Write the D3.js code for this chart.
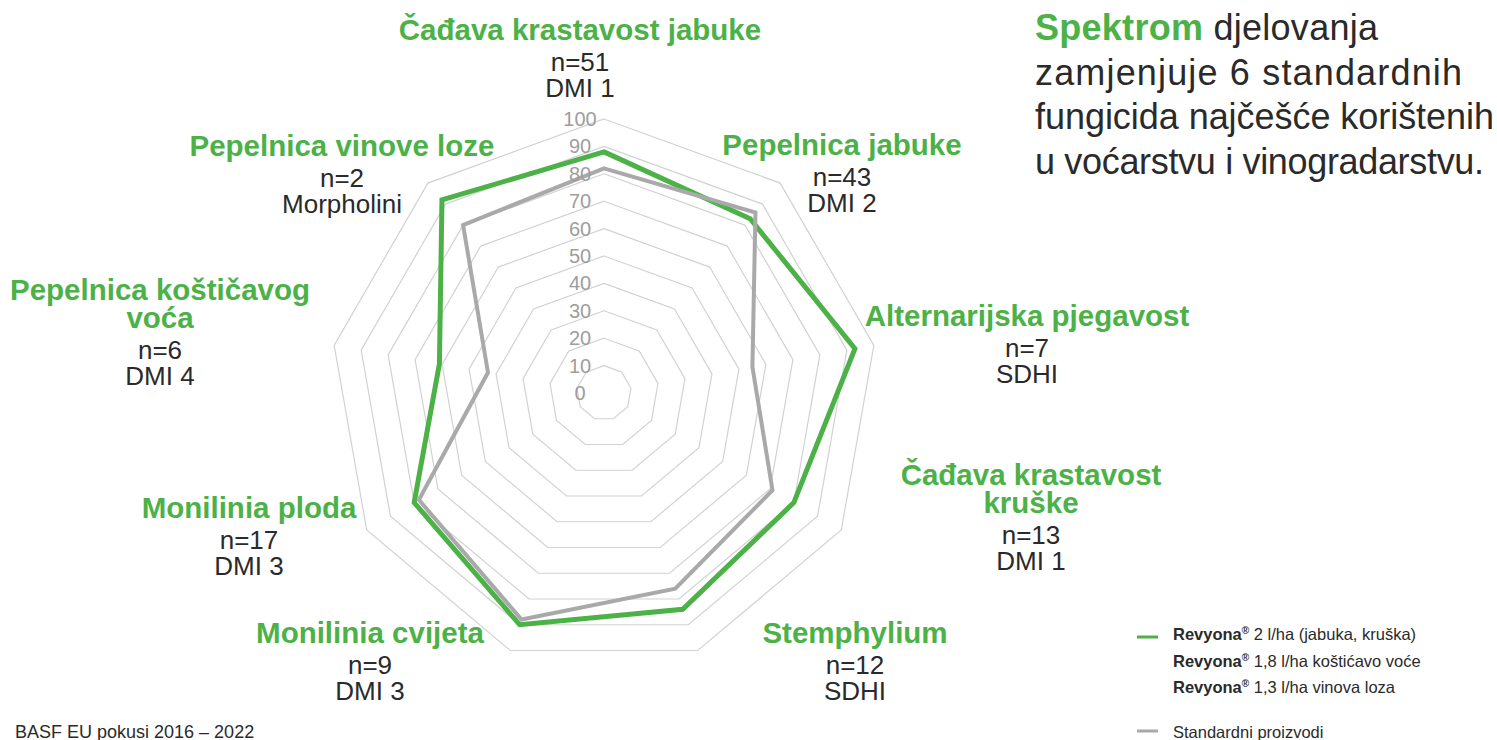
<!DOCTYPE html>
<html>
<head>
<meta charset="utf-8">
<script src="https://cdn.jsdelivr.net/npm/d3@7"></script>
<style>
  html, body { margin: 0; padding: 0; background: #fff; }
  svg { display: block; font-family: "Liberation Sans", Arial, Helvetica, sans-serif; }
</style>
</head>
<body>
<svg id="chart" width="1497" height="740"></svg>
<script>
// ---------- DATA ----------
const categories = [
  "Čađava krastavost jabuke",
  "Pepelnica jabuke",
  "Alternarijska pjegavost",
  "Čađava krastavost kruške",
  "Stemphylium",
  "Monilinia cvijeta",
  "Monilinia ploda",
  "Pepelnica koštičavog voća",
  "Pepelnica vinove loze"
];
const trialCounts = ["n=51", "n=43", "n=7", "n=13", "n=12", "n=9", "n=17", "n=6", "n=2"];
const standards = ["DMI 1", "DMI 2", "SDHI", "DMI 1", "SDHI", "DMI 3", "DMI 3", "DMI 4", "Morpholini"];
const revyonaValues  = [88, 83, 93, 80, 84, 90, 80, 61, 92];
const standardValues = [82, 86, 55, 71, 76, 88, 78, 43, 80];
const ringTicks = [0, 10, 20, 30, 40, 50, 60, 70, 80, 90, 100];
const legendLabels = [
  ["Revyona", " 2 l/ha (jabuka, kruška)"],
  ["Revyona", " 1,8 l/ha koštićavo voće"],
  ["Revyona", " 1,3 l/ha vinova loza"]
];
const legendStandard = "Standardni proizvodi";
const footnote = "BASF EU pokusi 2016 – 2022";
const headlineBold = "Spektrom";
const headlineLines = [" djelovanja", "zamjenjuje 6 standardnih", "fungicida najčešće korištenih", "u voćarstvu i vinogradarstvu."];

// ---------- LAYOUT (positions/styles, not data) ----------
const GREEN = "#4cb147", GREY = "#a9a9ab", TEXT = "#2a2a2a";
const cx = 604, cy = 393, R = 274;
// label anchor: [centre x, first baseline y, wrap title?]
const labelLayout = [
  [580, 40, false], [842, 155, false], [1027, 326, false],
  [1031, 485, true], [855, 643, false], [370, 643, false],
  [249, 518, false], [160, 300, true], [342, 156, false]
];
const headlineWidths = [343, 427, 459, 449];

const svg = d3.select("#chart");
const n = categories.length;
const angle = d3.scaleLinear().domain([0, n]).range([0, 2 * Math.PI]);
const r = d3.scaleLinear().domain([0, 100]).range([0, R]);

const g = svg.append("g").attr("transform", `translate(${cx},${cy})`);

// rings
const ringLine = d3.lineRadial().curve(d3.curveLinearClosed);
g.append("g").selectAll("path")
  .data(ringTicks.filter(t => t > 0))
  .join("path")
  .attr("d", t => ringLine(d3.range(n).map(i => [angle(i), r(t)])))
  .attr("fill", "none")
  .attr("stroke", "#d2d2d2")
  .attr("stroke-width", 1.2);

// series
const seriesLine = d3.lineRadial()
  .angle((d, i) => angle(i))
  .radius(d => r(d))
  .curve(d3.curveLinearClosed);

g.append("path").datum(revyonaValues)
  .attr("d", seriesLine)
  .attr("fill", "none").attr("stroke", GREEN)
  .attr("stroke-width", 5).attr("stroke-linejoin", "miter");

g.append("path").datum(standardValues)
  .attr("d", seriesLine)
  .attr("fill", "none").attr("stroke", GREY)
  .attr("stroke-width", 4).attr("stroke-linejoin", "miter");

// tick labels
g.append("g").selectAll("text")
  .data(ringTicks)
  .join("text")
  .attr("x", -24)
  .attr("y", t => -r(t) + 7)
  .attr("text-anchor", "middle")
  .attr("font-size", 20)
  .attr("fill", "#9d9d9d")
  .text(t => t);

// category labels
categories.forEach((name, i) => {
  const [x, y0, wrap] = labelLayout[i];
  let titleLines = [name];
  if (wrap) {
    const k = name.lastIndexOf(" ");
    titleLines = [name.slice(0, k), name.slice(k + 1)];
  }
  titleLines.forEach((line, j) => {
    svg.append("text").attr("text-anchor", "middle")
      .attr("x", x).attr("y", y0 + j * 28)
      .attr("font-size", 29.5).attr("font-weight", "bold").attr("fill", GREEN)
      .text(line);
  });
  const yN = y0 + (titleLines.length - 1) * 28 + 31;
  svg.append("text").attr("text-anchor", "middle").attr("x", x).attr("y", yN)
    .attr("font-size", 26).attr("fill", TEXT).text(trialCounts[i]);
  svg.append("text").attr("text-anchor", "middle").attr("x", x).attr("y", yN + 26)
    .attr("font-size", 26).attr("fill", TEXT).text(standards[i]);
});

// headline
const h1 = svg.append("text").attr("x", 1035).attr("y", 40)
  .attr("font-size", 36).attr("fill", TEXT)
  .attr("textLength", headlineWidths[0]).attr("lengthAdjust", "spacing");
h1.append("tspan").attr("font-weight", "bold").attr("fill", GREEN).text(headlineBold);
h1.append("tspan").text(headlineLines[0]);
headlineLines.slice(1).forEach((line, j) => {
  svg.append("text").attr("x", 1035).attr("y", 84.5 + j * 44.5)
    .attr("font-size", 36).attr("fill", TEXT)
    .attr("textLength", headlineWidths[j + 1]).attr("lengthAdjust", "spacing")
    .text(line);
});

// legend
svg.append("line").attr("x1", 1137).attr("x2", 1158).attr("y1", 637).attr("y2", 637)
  .attr("stroke", GREEN).attr("stroke-width", 3);
legendLabels.forEach((parts, i) => {
  const t = svg.append("text").attr("x", 1173).attr("y", 640 + i * 26.5)
    .attr("font-size", 16.5).attr("fill", TEXT);
  t.append("tspan").attr("font-weight", "bold").text(parts[0]);
  t.append("tspan").attr("font-weight", "bold").attr("font-size", 10).attr("dy", -6).text("®");
  t.append("tspan").attr("dy", 6).text(parts[1]);
});
svg.append("line").attr("x1", 1137).attr("x2", 1158).attr("y1", 731).attr("y2", 731)
  .attr("stroke", GREY).attr("stroke-width", 3);
svg.append("text").attr("x", 1173).attr("y", 738).attr("font-size", 16.5)
  .attr("fill", TEXT).text(legendStandard);

// footnote
svg.append("text").attr("x", 15).attr("y", 738).attr("font-size", 18)
  .attr("fill", TEXT).text(footnote);
</script>
</body>
</html>
